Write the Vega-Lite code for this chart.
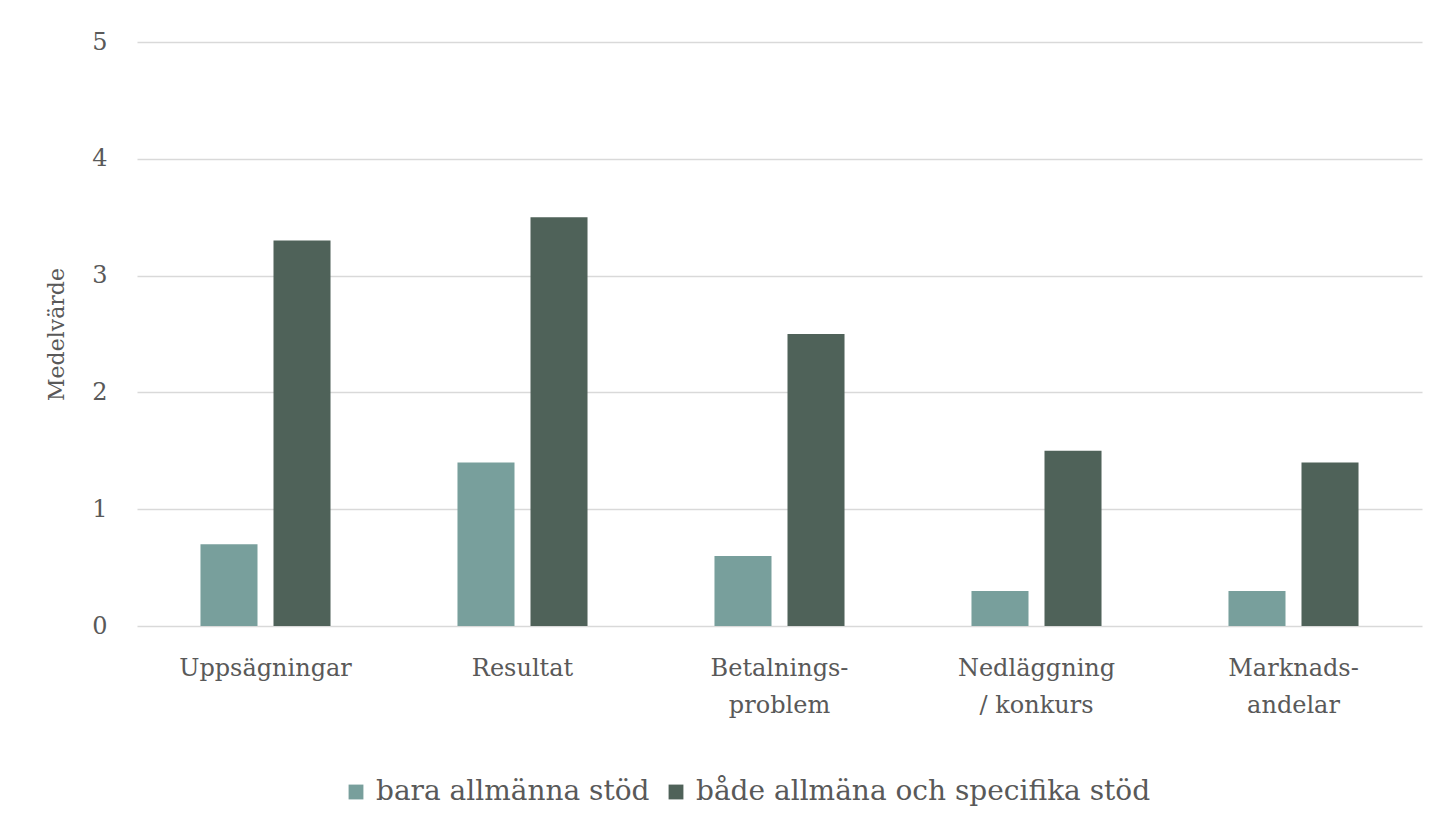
{
  "$schema": "https://vega.github.io/schema/vega-lite/v6.json",
  "width": 1285,
  "height": 584,
  "autosize": {"type": "none"},
  "padding": {"left": 137, "top": 42, "right": 28, "bottom": 207},
  "background": "white",
  "data": {
    "values": [
      {"kat": "Uppsägningar", "grupp": "bara allmänna stöd", "v": 0.7},
      {"kat": "Uppsägningar", "grupp": "både allmäna och specifika stöd", "v": 3.3},
      {"kat": "Resultat", "grupp": "bara allmänna stöd", "v": 1.4},
      {"kat": "Resultat", "grupp": "både allmäna och specifika stöd", "v": 3.5},
      {"kat": "Betalnings-\nproblem", "grupp": "bara allmänna stöd", "v": 0.6},
      {"kat": "Betalnings-\nproblem", "grupp": "både allmäna och specifika stöd", "v": 2.5},
      {"kat": "Nedläggning\n/ konkurs", "grupp": "bara allmänna stöd", "v": 0.3},
      {"kat": "Nedläggning\n/ konkurs", "grupp": "både allmäna och specifika stöd", "v": 1.5},
      {"kat": "Marknads-\nandelar", "grupp": "bara allmänna stöd", "v": 0.3},
      {"kat": "Marknads-\nandelar", "grupp": "både allmäna och specifika stöd", "v": 1.4}
    ]
  },
  "mark": {"type": "bar"},
  "encoding": {
    "x": {
      "field": "kat",
      "type": "nominal",
      "sort": null,
      "title": null,
      "scale": {"paddingInner": 0.494, "paddingOuter": 0.247},
      "axis": {
        "labelAngle": 0,
        "labelExpr": "split(datum.label, '\\n')",
        "labelLineHeight": 37,
        "labelPadding": 30,
        "labelFont": "DejaVu Serif",
        "labelFontSize": 24,
        "labelColor": "#595959",
        "labelLimit": 0,
        "domain": false,
        "ticks": false,
        "grid": false
      }
    },
    "xOffset": {
      "field": "grupp",
      "type": "nominal",
      "sort": null,
      "scale": {"paddingInner": 0.219, "paddingOuter": 0}
    },
    "y": {
      "field": "v",
      "type": "quantitative",
      "title": "Medelvärde",
      "scale": {"domain": [0, 5]},
      "axis": {
        "values": [0, 1, 2, 3, 4, 5],
        "domain": false,
        "ticks": false,
        "grid": true,
        "gridColor": "#d9d9d9",
        "gridWidth": 1.5,
        "labelPadding": 30,
        "labelFont": "DejaVu Serif",
        "labelFontSize": 24,
        "labelColor": "#595959",
        "titleFont": "DejaVu Serif",
        "titleFontSize": 22,
        "titleFontWeight": "normal",
        "titleColor": "#595959",
        "titlePadding": 23
      }
    },
    "color": {
      "field": "grupp",
      "type": "nominal",
      "sort": null,
      "title": null,
      "scale": {"range": ["#789f9c", "#4f6259"]},
      "legend": {
        "orient": "none",
        "direction": "horizontal",
        "legendX": 205,
        "legendY": 736,
        "symbolType": "square",
        "symbolSize": 220,
        "symbolStrokeWidth": 0,
        "labelFont": "DejaVu Serif",
        "labelFontSize": 28,
        "labelColor": "#595959",
        "labelLimit": 0,
        "columnPadding": 12,
        "labelOffset": 6
      }
    }
  },
  "config": {
    "view": {"stroke": null}
  }
}
